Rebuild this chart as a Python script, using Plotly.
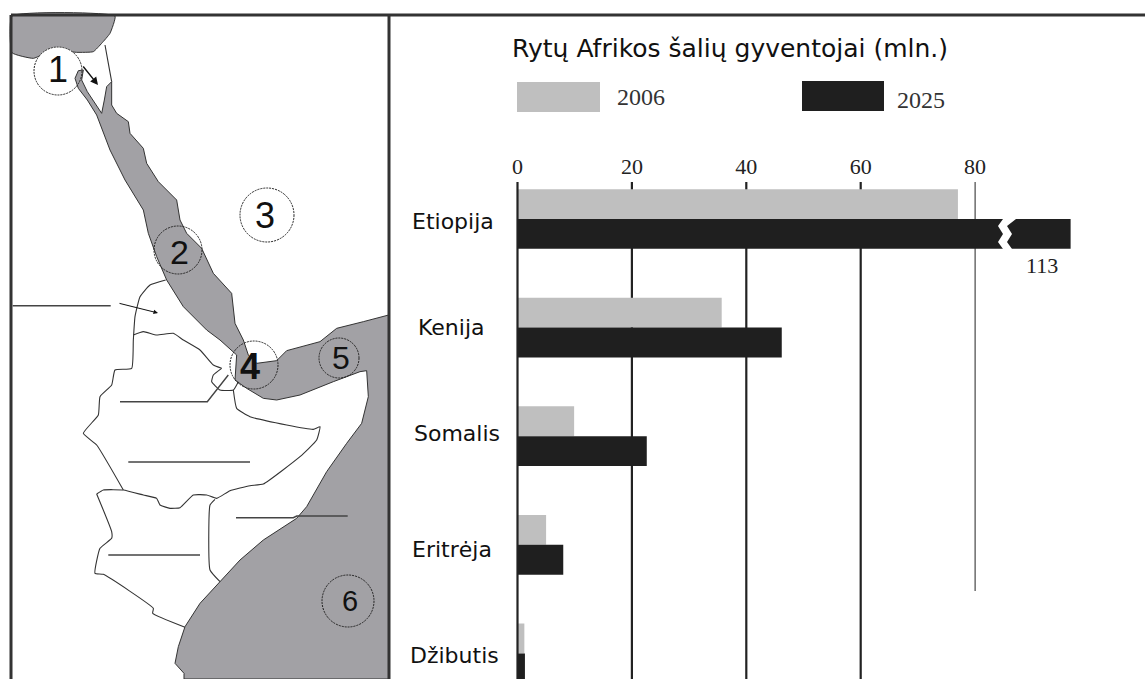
import math
import plotly.graph_objects as go

# ---------- data ----------
countries = ["Etiopija", "Kenija", "Somalis", "Eritrėja", "Džibutis"]
pop_2006 = [77, 35.7, 9.9, 5, 1.2]
pop_2025 = [113, 46.2, 22.6, 8, 1.3]
# Ethiopia's 2025 bar is cut by an axis break in the source: drawn length on the scale
drawn_2025 = [96.7, 46.2, 22.6, 8, 1.3]
axis_ticks = [0, 20, 40, 60, 80]
year_labels = ["2006", "2025"]
title_text = "Rytų Afrikos šalių gyventojai (mln.)"

W, H = 1145, 679
GRAY, BLACK, SEA = "#bfbfbf", "#1f1f1f", "#a2a1a5"
SERIF = "Liberation Serif"
SANS = "DejaVu Sans"
x_zero, px_per_unit = 517.5, 5.72
cat_step, first_center = 108.6, 219

fig = go.Figure()

# ---------- bars ----------
for name, vals, col, txt in [
    (year_labels[0], pop_2006, GRAY, pop_2006),
    (year_labels[1], drawn_2025, BLACK, pop_2025),
]:
    fig.add_trace(go.Bar(y=countries, x=vals, orientation="h", name=name,
                         marker=dict(color=col, line=dict(width=0)),
                         customdata=txt, hovertemplate="%{y}: %{customdata}<extra>" + name + "</extra>",
                         xaxis="x", yaxis="y", showlegend=False))


def z1(pts):
    return [(x / 3, y / 3) for x, y in pts]


def z2(pts):
    return [(x / 3, 340 + y / 3) for x, y in pts]


def poly(pts, fill=None, color="#333", width=1, dash=None, shape="spline"):
    xs = [p[0] for p in pts]
    ys = [p[1] for p in pts]
    line = dict(color=color, width=width, dash=dash, shape=shape)
    if shape == "spline":
        line["smoothing"] = 0.4
    fig.add_trace(go.Scatter(x=xs, y=ys, mode="lines", xaxis="x2", yaxis="y2",
                             fill="toself" if fill else None, fillcolor=fill,
                             line=line, hoverinfo="skip", showlegend=False))


def circle(cx, cy, r):
    fig.add_shape(type="circle", xref="x2", yref="y2", x0=cx - r, x1=cx + r, y0=cy - r, y1=cy + r,
                  line=dict(color="#222", width=1, dash="2px,1px"),
                  fillcolor="rgba(0,0,0,0)", layer="above")


# ---------- map: seas ----------
poly(z1([(36, 48), (345, 48), (330, 100), (305, 130), (280, 155), (230, 157), (160, 150),
         (100, 175), (36, 158), (36, 48)]), fill=SEA)

# white disc of marker 1 covers the northern sea
disc_pts = [(58 + 24 * math.cos(a / 24 * 2 * math.pi), 71 + 24 * math.sin(a / 24 * 2 * math.pi)) for a in range(25)]
poly(disc_pts, fill="white", color="white", width=0.5, shape="linear")

sea_main = (
    z1([(225, 235), (235, 212), (250, 210), (245, 240), (262, 275), (290, 320), (305, 340),
        (313, 300), (320, 260), (335, 245), (335, 315), (350, 340), (385, 365), (390, 400),
        (430, 445), (440, 490), (475, 545), (530, 600), (540, 660), (560, 700), (605, 745),
        (640, 820), (695, 880), (705, 970), (730, 1020)])
    + z2([(745, 45), (770, 70), (830, 62), (860, 32), (960, 5)])
    + z1([(1010, 985), (1090, 965), (1166, 945), (1166, 2037), (552, 2037)])
    + z2([(552, 1000), (525, 970), (535, 920), (555, 860), (600, 790), (660, 725), (720, 660),
          (790, 600), (890, 535), (920, 500), (980, 395), (1040, 310), (1085, 250), (1105, 170),
          (1100, 92), (1080, 95), (1000, 125), (900, 165), (830, 180), (790, 175), (740, 145),
          (705, 120), (710, 45), (660, 0)])
    + z1([(620, 990), (550, 920), (500, 840), (470, 770), (445, 700), (430, 630), (375, 540),
          (330, 450), (290, 345), (262, 300), (235, 265), (225, 235)])
)
poly(sea_main, fill=SEA, shape="linear")

# ---------- map: borders ----------
border_w = 1.1
poly(z1([(315, 135), (325, 190), (335, 245)]), width=border_w)
poly(z1([(497, 840), (450, 855), (420, 890), (405, 950), (400, 1020)])
     + z2([(395, 85), (345, 90), (335, 135), (300, 170), (295, 225), (250, 280), (290, 315), (370, 450)]),
     width=border_w)
poly(z2([(290, 462), (310, 450), (370, 450), (430, 465), (470, 475), (480, 495), (510, 505),
         (540, 503), (580, 465), (620, 465), (650, 475), (690, 452), (750, 437), (790, 432),
         (900, 350), (950, 300), (960, 260), (940, 268), (860, 255), (750, 230), (710, 205),
         (700, 150)]), width=border_w)
poly(z1([(400, 1005), (430, 995), (470, 1005), (520, 1000)])
     + z2([(550, 0), (600, 30), (640, 75), (665, 85)]), width=border_w)
poly(z2([(665, 85), (640, 105), (635, 125), (660, 150), (700, 150), (715, 125)]), width=border_w)
poly(z2([(290, 462), (335, 575), (335, 595), (300, 625), (285, 700), (310, 703), (460, 805),
         (458, 820), (555, 862)]), width=border_w)
poly(z2([(645, 478), (630, 495), (630, 690), (660, 725)]), width=border_w)

# ---------- map: answer lines ----------
for pts in [
    z2([(360, 185), (622, 185), (685, 105)]),
    z2([(385, 366), (750, 366)]),
    z2([(708, 533), (880, 533), (890, 528), (1043, 528)]),
    z2([(325, 645), (600, 645)]),
    z1([(38, 917), (332, 917)]),
]:
    fig.add_shape(type="path", xref="x2", yref="y2",
                  path="M " + " L ".join(f"{x:.1f},{y:.1f}" for x, y in pts),
                  line=dict(color="#444", width=1.4), layer="above")

circle(58, 71, 24)
circle(178, 250, 24)
circle(267, 215, 27)
circle(254, 365, 24)
circle(339, 358, 20)
circle(348, 601, 26)

annotations = []
for t, x, y, s in [("1", 58, 69, 36), ("2", 179, 252, 34), ("3", 265, 215, 36),
                   ("<b>4</b>", 250, 366, 36), ("5", 341, 358, 32), ("6", 350, 601, 29)]:
    annotations.append(dict(text=t, x=x, y=y, xref="x2", yref="y2", showarrow=False,
                            font=dict(family="Liberation Sans", size=s, color="#111"),
                            yanchor="middle", xanchor="center"))

# arrows on the map
for (x0, y0), (x1, y1), w, sz in [((82, 65), (98, 85), 1.4, 1.1), ((118, 303), (158, 313), 1, 0.9)]:
    annotations.append(dict(x=x1, y=y1, ax=x0, ay=y0, xref="x2", yref="y2", axref="x2", ayref="y2",
                            text="", showarrow=True, arrowhead=2, arrowwidth=w, arrowsize=sz,
                            arrowcolor="#111"))

# ---------- chart decoration ----------
# frame
for x0, y0, x1, y1 in [(11, 15, 1145, 15), (11, 15, 11, 679), (389, 15, 389, 679)]:
    fig.add_shape(type="line", xref="x2", yref="y2", x0=x0, y0=y0, x1=x1, y1=y1,
                  line=dict(color="#333", width=3), layer="above")

# value-axis rules: the zero rule sits on the bars' left edge, the others run behind the bars
plot_top = 182
fig.add_shape(type="line", xref="x2", yref="y2", x0=x_zero, x1=x_zero, y0=plot_top, y1=H,
              line=dict(color="#222", width=2.2), layer="above")
for v in axis_ticks[1:]:
    last = v == axis_ticks[-1]
    fig.add_shape(type="line", xref="x", yref="y2", x0=v, x1=v, y0=plot_top, y1=591 if last else H,
                  line=dict(color="#222", width=1 if last else 2.2), layer="below")

# axis break across Ethiopia's 2025 bar
brk = [(1000, 219), (1003, 219), (998, 226), (1003, 234), (998, 242), (1003, 249), (1012, 249),
       (1007, 242), (1012, 234), (1007, 226), (1016, 219)]
fig.add_trace(go.Scatter(x=[p[0] for p in brk], y=[p[1] for p in brk], mode="lines", fill="toself",
                         fillcolor="white", line=dict(width=0, color="white"),
                         xaxis="x2", yaxis="y2", hoverinfo="skip", showlegend=False))
annotations.append(dict(text=str(pop_2025[0]), x=1042, y=265, xref="x2", yref="y2", showarrow=False,
                        font=dict(family=SERIF, size=22, color="#222")))

# title
annotations.append(dict(text=title_text, x=510, y=48, xref="x2", yref="y2", showarrow=False, xanchor="left",
                        font=dict(family=SANS, size=25, color="#111")))
# legend
for (x0, y0, x1, y1), col, label, tx, ty in [
    ((517, 82, 600, 112), GRAY, year_labels[0], 641, 97),
    ((802, 81, 884, 111), BLACK, year_labels[1], 921, 100),
]:
    fig.add_shape(type="rect", xref="x2", yref="y2", x0=x0, x1=x1, y0=y0, y1=y1,
                  fillcolor=col, line=dict(width=0), layer="above")
    annotations.append(dict(text=label, x=tx, y=ty, xref="x2", yref="y2", showarrow=False,
                            font=dict(family=SERIF, size=24, color="#333")))

# country labels
label_x = [453, 451, 457, 452, 454]
label_y = [221, 327, 433, 549, 655]
for c, x, y in zip(countries, label_x, label_y):
    annotations.append(dict(text=c, x=x, y=y, xref="x2", yref="y2", showarrow=False,
                            font=dict(family=SANS, size=22, color="#111")))

fig.update_layout(
    width=W, height=H, margin=dict(l=0, r=0, t=0, b=0), autosize=False,
    paper_bgcolor="white", plot_bgcolor="rgba(0,0,0,0)",
    barmode="group", bargap=0.45, bargroupgap=0, showlegend=False,
    annotations=annotations,
    xaxis=dict(domain=[x_zero / W, 1], range=[0, (W - x_zero) / px_per_unit], side="top", anchor="y",
               tickmode="array", tickvals=axis_ticks, showgrid=False, zeroline=False, showline=False,
               ticks="", ticklabelstandoff=3, automargin=False,
               tickfont=dict(family=SERIF, size=22, color="#222"), fixedrange=True),
    yaxis=dict(domain=[0, (H - plot_top) / H],
               range=[(H - first_center) / cat_step, (plot_top - first_center) / cat_step],
               type="category", categoryorder="array", categoryarray=countries, automargin=False,
               showticklabels=False, showgrid=False, zeroline=False, showline=False, ticks="",
               fixedrange=True, anchor="x"),
    xaxis2=dict(domain=[0, 1], range=[0, W], visible=False, fixedrange=True, anchor="y2", automargin=False),
    yaxis2=dict(domain=[0, 1], range=[H, 0], visible=False, fixedrange=True, anchor="x2", automargin=False),
)

fig.write_html("out.html", config={"displayModeBar": False},
               post_script="document.documentElement.style.overflow='hidden';document.body.style.margin='0';")
